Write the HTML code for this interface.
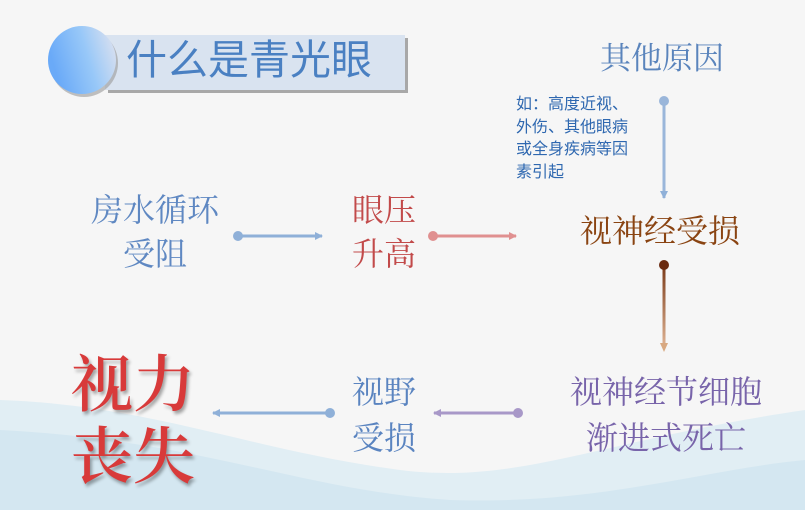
<!DOCTYPE html>
<html><head><meta charset="utf-8">
<style>
body{margin:0}
#p{position:relative;width:805px;height:510px;overflow:hidden;background:#f6f6f6;font-family:"Noto Serif CJK SC","Liberation Serif",serif}
.t{position:absolute;white-space:nowrap;line-height:1}
</style></head><body><div id="p">
<svg width="805" height="510" style="position:absolute;left:0;top:0">
<defs>
<linearGradient id="cg" x1="0" x2="1" y1="0.3" y2="0">
<stop offset="0" stop-color="#6aaaf8"/><stop offset="0.5" stop-color="#98c8f8"/><stop offset="1" stop-color="#e4e4ee"/></linearGradient>
<marker id="a1" markerWidth="8" markerHeight="8" refX="7" refY="4" orient="auto" markerUnits="userSpaceOnUse"><path d="M0,0 L8,4 L0,8z" fill="#8fb0d8"/></marker>
<marker id="a2" markerWidth="8" markerHeight="8" refX="7" refY="4" orient="auto" markerUnits="userSpaceOnUse"><path d="M0,0 L8,4 L0,8z" fill="#e09090"/></marker>
<marker id="a4" markerWidth="8" markerHeight="8" refX="7" refY="4" orient="auto" markerUnits="userSpaceOnUse"><path d="M0,0 L8,4 L0,8z" fill="#a898c8"/></marker>
<linearGradient id="vg" x1="0" x2="0" y1="0" y2="1"><stop offset="0" stop-color="#7a3a18"/><stop offset="1" stop-color="#dcb090"/></linearGradient>
</defs>
<path d="M0,400 C150,405 250,450 400,470 C520,485 600,440 805,410 L805,510 L0,510z" fill="#dcecf4" opacity="0.8"/>
<path d="M0,430 C200,440 300,490 450,500 C600,505 700,470 805,460 L805,510 L0,510z" fill="#cfe4f0" opacity="0.7"/>
<rect x="108" y="38" width="300" height="55" fill="#a8a8a8"/>
<rect x="105" y="35" width="300" height="55" fill="#d9e3f0"/>
<circle cx="84" cy="63" r="34" fill="#999" opacity="0.6"/>
<circle cx="82" cy="60" r="34" fill="url(#cg)"/>
<line x1="664" y1="101" x2="664" y2="198" stroke="#9ab6da" stroke-width="3" marker-end="url(#a1)"/>
<circle cx="664" cy="101" r="5" fill="#9ab6da"/>
<line x1="238" y1="236" x2="322" y2="236" stroke="#8fb0d8" stroke-width="3" marker-end="url(#a1)"/>
<circle cx="238" cy="236" r="5" fill="#8fb0d8"/>
<line x1="433" y1="236" x2="516" y2="236" stroke="#e09090" stroke-width="3" marker-end="url(#a2)"/>
<circle cx="433" cy="236" r="5" fill="#e09090"/>
<rect x="662.5" y="265" width="3" height="80" fill="url(#vg)"/>
<path d="M660,343 L668,343 L664,352z" fill="#d8a880"/>
<circle cx="664" cy="265" r="5" fill="#6a2a10"/>
<line x1="518" y1="413" x2="434" y2="413" stroke="#a898c8" stroke-width="3" marker-end="url(#a4)"/>
<circle cx="518" cy="413" r="5" fill="#a898c8"/>
<line x1="330" y1="413" x2="213" y2="413" stroke="#8fb0d8" stroke-width="3" marker-end="url(#a1)"/>
<circle cx="330" cy="413" r="5" fill="#8fb0d8"/>
</svg>
<div class="t" style="left:126px;top:40px;font-size:41px;color:#4a80c2;font-family:'Liberation Sans','Noto Sans CJK SC',sans-serif">什么是青光眼</div>
<div class="t" style="left:600px;top:40px;font-size:31px;color:#5a84bc">其他原因</div>
<div class="t" style="left:516px;top:94px;font-size:16px;line-height:22.5px;color:#2f68b0;white-space:normal;width:140px;font-family:'Liberation Sans','Noto Sans CJK SC',sans-serif">如：高度近视、<br>外伤、其他眼病<br>或全身疾病等因<br>素引起</div>
<div class="t" style="left:580px;top:213px;font-size:32px;color:#8a4412">视神经受损</div>
<div class="t" style="left:91px;top:186px;font-size:32px;line-height:44px;color:#5f88c2;text-align:center;width:128px">房水循环<br>受阻</div>
<div class="t" style="left:352px;top:186px;font-size:32px;line-height:44px;color:#c24a4a">眼压<br>升高</div>
<div class="t" style="left:570px;top:367px;font-size:32px;line-height:46px;color:#7864aa;text-align:center;width:192px">视神经节细胞<br>渐进式死亡</div>
<div class="t" style="left:352px;top:367px;font-size:32px;line-height:46px;color:#5a84c0">视野<br>受损</div>
<div class="t" style="left:71px;top:344px;font-size:62px;line-height:72px;color:#d83a3a;font-weight:600;text-shadow:2px 3px 3px rgba(0,0,0,0.35)">视力<br>丧失</div>
</div></body></html>
